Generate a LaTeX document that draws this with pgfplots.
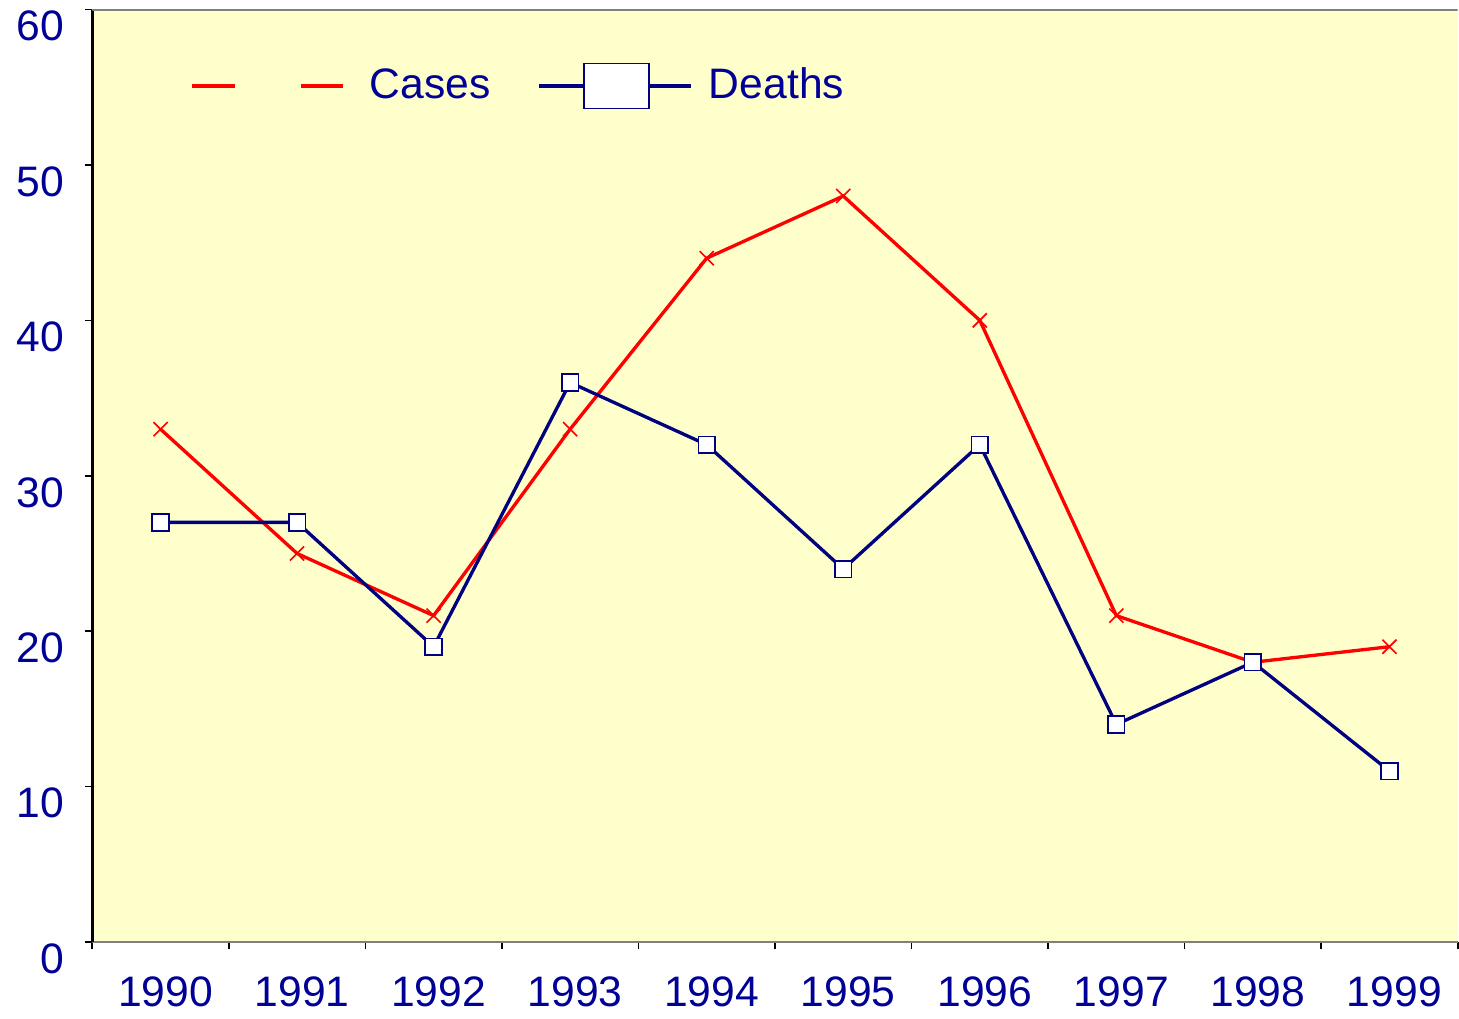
\documentclass[border=0pt]{standalone}
\usepackage{fontspec}
\setmainfont{Liberation Sans}
\usepackage{pgfplots}
\pgfplotsset{compat=1.18}
\definecolor{bgYellow}{RGB}{255,255,204}
\definecolor{casesRed}{RGB}{255,0,0}
\definecolor{deathsNavy}{RGB}{0,0,128}
\definecolor{labelBlue}{RGB}{0,0,150}
\begin{document}
\begin{tikzpicture}
\begin{axis}[
    name = main,
    scale only axis,
    width  = 410pt,
    height = 280pt,
    axis lines* = left,
    separate axis lines,
    x axis line style = {gray, line width=0.8pt},
    y axis line style = {black, line width=0.8pt},
    axis background/.style = {fill=bgYellow},
    xmin = -0.5, xmax = 9.5,
    ymin = 0, ymax = 60,
    xtick = data,
    xticklabels = {1990,1991,1992,1993,1994,1995,1996,1997,1998,1999},
    minor xtick = {-0.5,0.5,...,9.5},
    ytick = {0,10,...,60},
    major x tick style = {draw=none},
    minor tick length = 2.2pt,
    major tick length = 2.2pt,
    tick align = outside,
    tick style = {black, line width=0.5pt},
    every axis/.append style = {font=\fontsize{12.8}{15}\selectfont},
    /pgf/number format/assume math mode = true,
    ticklabel style = {text=labelBlue},
    xticklabel style = {yshift=-4.8pt, xshift=1.5pt},
    yticklabel style = {yshift=-5pt, xshift=-2.8pt},
    legend columns = 2,
    legend style = {
        draw = none, fill = none,
        at = {(0.071,0.918)}, anchor = west,
        inner sep = 0pt,
        text = labelBlue,
        font = \fontsize{12.8}{15}\selectfont,
        /tikz/every odd column/.append style = {column sep=3pt},
        /tikz/every even column/.append style = {column sep=12pt},
    },
]

\addplot[casesRed, line width=1pt, mark=x, mark size=3pt,
    mark options={line width=0.5pt},
    legend image code/.code={
        \path[draw=none] (0pt,0pt) -- (48.5pt,0pt);
        \draw[casesRed, line width=1pt] (0pt,0pt) -- (13pt,0pt);
        \draw[casesRed, line width=1pt] (33pt,0pt) -- (45.6pt,0pt);
    }]
    coordinates {(0,33) (1,25) (2,21) (3,33) (4,44) (5,48) (6,40) (7,21) (8,18) (9,19)};
\addlegendentry{Cases}

\addplot[deathsNavy, line width=1pt, mark=square*, mark size=2.5pt,
    mark options={fill=white, line width=0.5pt},
    legend image code/.code={
        \draw[deathsNavy, line width=1pt] (0pt,0pt) -- (45.6pt,0pt);
        \draw[deathsNavy, fill=white, line width=0.5pt] (13.5pt,-6.75pt) rectangle (33pt,6.75pt);
    }]
    coordinates {(0,27) (1,27) (2,19) (3,36) (4,32) (5,24) (6,32) (7,14) (8,18) (9,11)};
\addlegendentry{Deaths}

\draw[gray, line width=0.8pt] (rel axis cs:0,1) -- (rel axis cs:1,1);
\end{axis}
% a little empty room at the left, as in the reference
\path ([xshift=-1.6pt]current bounding box.west);
\end{tikzpicture}
\end{document}
